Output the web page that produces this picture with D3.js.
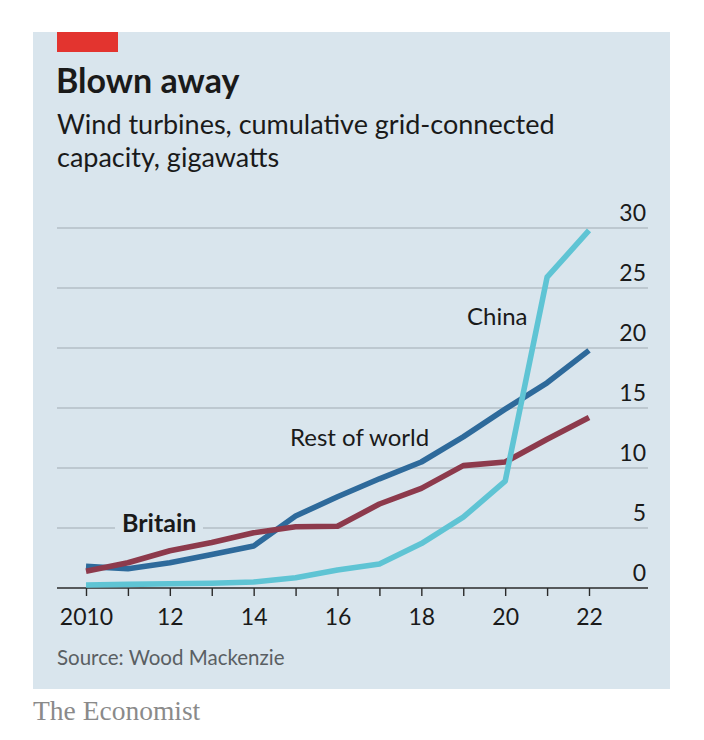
<!DOCTYPE html>
<html><head><meta charset="utf-8">
<script src="https://cdn.jsdelivr.net/npm/d3@7"></script>
<style>body{margin:0;background:#fff}</style>
</head><body>
<script>
const years = [2010,2011,2012,2013,2014,2015,2016,2017,2018,2019,2020,2021,2022];
const china = [0.25,0.3,0.35,0.4,0.5,0.85,1.5,2.0,3.7,5.9,8.9,25.9,29.8];
const restOfWorld = [1.8,1.6,2.1,2.8,3.5,6.0,7.6,9.1,10.5,12.6,14.9,17.1,19.8];
const britain = [1.4,2.1,3.1,3.8,4.6,5.1,5.15,7.0,8.3,10.2,10.5,12.4,14.2];
const yTicks = [0,5,10,15,20,25,30];
const xTickLabels = ["2010","12","14","16","18","20","22"];

const W=704,H=740;
const svg=d3.select("body").append("svg").attr("width",W).attr("height",H);
const font="Lato, 'Open Sans', sans-serif";
svg.append("rect").attr("x",33).attr("y",32).attr("width",637).attr("height",657).attr("fill","#d9e5ed");
svg.append("rect").attr("x",57).attr("y",32).attr("width",61).attr("height",20).attr("fill","#e3342f");
svg.append("text").attr("x",56).attr("y",93).text("Blown away").attr("font-family",font).attr("font-weight",700).attr("font-size",34).attr("fill","#1a1a1a");
svg.append("text").attr("x",57).attr("y",134).text("Wind turbines, cumulative grid-connected").attr("font-family",font).attr("font-size",27).attr("fill","#1a1a1a");
svg.append("text").attr("x",57).attr("y",167).text("capacity, gigawatts").attr("font-family",font).attr("font-size",27).attr("fill","#1a1a1a");

const x=d3.scaleLinear().domain([2010,2022]).range([86,589]);
const y=d3.scaleLinear().domain([0,30]).range([588,228]);

// gridlines
svg.append("g").selectAll("line").data(yTicks.filter(d=>d>0)).join("line")
  .attr("x1",57).attr("x2",648).attr("y1",d=>y(d)).attr("y2",d=>y(d))
  .attr("stroke","#b3bec6").attr("stroke-width",1.3);
svg.append("g").selectAll("text").data(yTicks).join("text")
  .attr("x",646).attr("y",d=>y(d)-7).attr("text-anchor","end").text(d=>d)
  .attr("font-family",font).attr("font-size",23).attr("fill","#1a1a1a");

// x axis
const xAxis=d3.axisBottom(x).tickValues(years).tickSize(8).tickFormat(d=>{const i=(d-2010)/2;return Number.isInteger(i)?xTickLabels[i]:"";});
const gx=svg.append("g").attr("transform","translate(0,588)").call(xAxis);
gx.select(".domain").remove();
gx.selectAll(".tick line").attr("stroke","#2a2a2a").attr("stroke-width",1.4);
gx.selectAll(".tick text").attr("font-family",font).attr("font-size",23).attr("fill","#1a1a1a").attr("dy","0").attr("y",37);
svg.append("line").attr("x1",57).attr("x2",648).attr("y1",588).attr("y2",588).attr("stroke","#2a2a2a").attr("stroke-width",1.6);

// Britain label knockout
svg.append("rect").attr("x",115).attr("y",512).attr("width",88).attr("height",26).attr("fill","#d9e5ed");

const line=d3.line().x((d,i)=>x(years[i])).y(d=>y(d)).curve(d3.curveLinear);
svg.append("path").datum(restOfWorld).attr("d",line).attr("fill","none").attr("stroke","#2e6a9b").attr("stroke-width",5.6).attr("stroke-linejoin","round");
svg.append("path").datum(britain).attr("d",line).attr("fill","none").attr("stroke","#8d3a4c").attr("stroke-width",5.6).attr("stroke-linejoin","round");
svg.append("path").datum(china).attr("d",line).attr("fill","none").attr("stroke","#5fc4d4").attr("stroke-width",5.6).attr("stroke-linejoin","round");

svg.append("text").attr("x",467).attr("y",325).text("China").attr("font-family",font).attr("font-size",24).attr("fill","#1a1a1a");
svg.append("text").attr("x",290).attr("y",446).text("Rest of world").attr("font-family",font).attr("font-size",24).attr("fill","#1a1a1a");
svg.append("text").attr("x",122).attr("y",532).text("Britain").attr("font-family",font).attr("font-weight",700).attr("font-size",25).attr("fill","#1a1a1a");

svg.append("text").attr("x",57).attr("y",665).text("Source: Wood Mackenzie").attr("font-family",font).attr("font-size",20.5).attr("fill","#5a5f63");
svg.append("text").attr("x",33).attr("y",720).text("The Economist").attr("font-family","'Liberation Serif', 'DejaVu Serif', serif").attr("font-size",27.5).attr("fill","#8a8a8a");
</script>
</body></html>
